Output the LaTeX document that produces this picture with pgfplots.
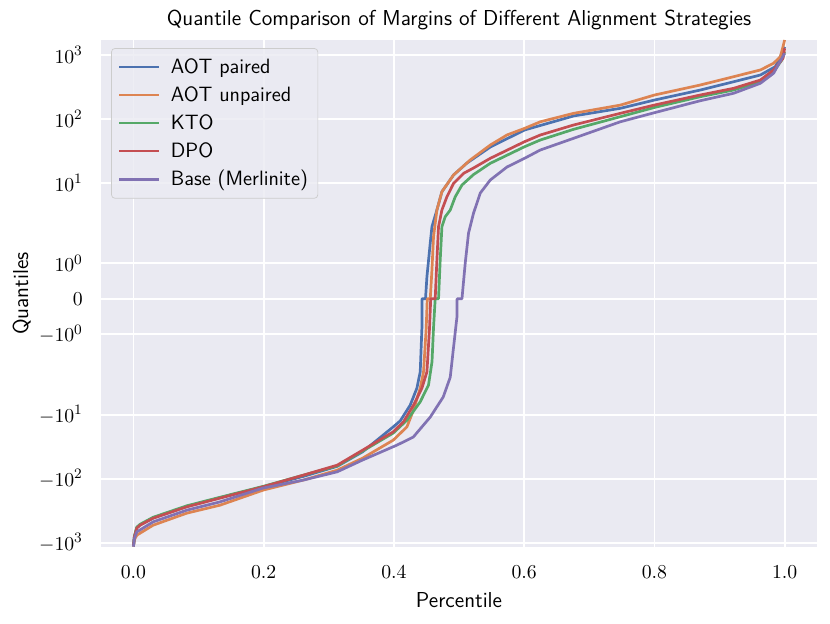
\documentclass[border=0pt]{standalone}
\usepackage{fontspec}
\usepackage{pgfplots}
\pgfplotsset{compat=1.18}

\definecolor{sbblue}{HTML}{4C72B0}
\definecolor{sborange}{HTML}{DD8452}
\definecolor{sbgreen}{HTML}{55A868}
\definecolor{sbred}{HTML}{C44E52}
\definecolor{sbpurple}{HTML}{8172B3}
\definecolor{sbbg}{HTML}{EAEAF2}

\begin{document}
\begin{tikzpicture}
\begin{axis}[
  name=ax, at={(0,0)}, anchor=south west,
  scale only axis, width=397.7pt, height=281.7pt,
  xmin=-0.05, xmax=1.05, ymin=-7.76, ymax=8.09,
  axis background/.style={fill=sbbg},
  axis line style={draw=none},
  major tick length=0pt,
  grid=major, grid style={white, line width=1pt},
  xtick={0,0.2,0.4,0.6,0.8,1.0},
  xticklabels={$0.0$,$0.2$,$0.4$,$0.6$,$0.8$,$1.0$},
  % symlog (linthresh 2, linscale 1): positions of the ticks
  ytick={-7.62016,-5.62016,-3.62016,-1.11111,0,1.11111,3.62016,5.62016,7.62016},
  yticklabels={$-10^{3}$,$-10^{2}$,$-10^{1}$,$-10^{0}$,$0$,$10^{0}$,$10^{1}$,$10^{2}$,$10^{3}$},
  y filter/.expression={(abs(y)<=2) ? (1.11111*y) : ((y>0 ? 1 : -1)*2*(1.11111+ln(max(abs(y),2)/2)/ln(10)))},
  tick label style={font=\fontsize{11}{13}\selectfont},
  xticklabel style={yshift=-7pt},
  yticklabel style={xshift=-6.5pt},
  title={Quantile Comparison of Margins of Different Alignment Strategies},
  every axis title/.style={at={(axis description cs:0.5,1.039)}, anchor=center, font=\sffamily\fontsize{12}{14}\selectfont},
  xlabel={Percentile}, ylabel={Quantiles},
  every axis x label/.style={at={(axis description cs:0.5,-0.1044)}, anchor=center, font=\sffamily\fontsize{12}{14}\selectfont},
  every axis y label/.style={at={(axis description cs:-0.1106,0.5)}, rotate=90, anchor=center, font=\sffamily\fontsize{12}{14}\selectfont},
  every axis plot/.append style={line width=1.5pt, line join=round},
  legend cell align=left,
  legend image code/.code={\draw[#1] (0pt,0pt) -- (22pt,0pt);},
  legend style={at={(axis description cs:0.0143,0.9837)}, anchor=north west,
    fill=sbbg, fill opacity=0.8, text opacity=1, draw=black!20, rounded corners=2pt,
    font=\sffamily\fontsize{11.5}{13.5}\selectfont, row sep=1.8pt, inner xsep=3.5pt, inner ysep=3.5pt,
    /tikz/every odd column/.append style={column sep=4pt}},
]

\addplot[sbblue] coordinates {
(0,-1130) (0.0015,-800) (0.0052,-580) (0.0103,-525) (0.0303,-410) (0.082,-270) (0.133,-198)
(0.199,-134) (0.261,-92) (0.313,-64) (0.352,-38) (0.399,-15.5) (0.4097,-12.5)
(0.425,-7.1) (0.4353,-3.85) (0.4404,-2.14) (0.443,-0.82) (0.4432,0) (0.4485,0)
(0.4507,0.62) (0.4558,1.57) (0.4584,2.07) (0.466,3.77) (0.4737,7.28) (0.4916,13.3)
(0.5121,20.4) (0.548,36.3) (0.6006,67) (0.6759,111) (0.7476,146) (0.8003,197)
(0.8705,282) (0.9217,380) (0.9627,484) (0.9857,653) (0.9934,936) (1.0,1340)
};
\addlegendentry{AOT paired}

\addplot[sborange] coordinates {
(0,-1150) (0.0015,-900) (0.0052,-762) (0.0303,-532) (0.082,-345) (0.133,-259) (0.199,-151)
(0.261,-105) (0.313,-73.5) (0.352,-47.7) (0.3989,-25) (0.42,-15.5) (0.43,-8.5)
(0.4404,-3.85) (0.4455,-2.14) (0.4496,-0.82) (0.4512,0) (0.4558,0) (0.4584,0.81)
(0.4608,1.74) (0.466,3.77) (0.4737,7.28) (0.4916,13.3) (0.5172,22.8) (0.548,39)
(0.5736,56) (0.6006,71) (0.6247,90) (0.6759,122) (0.7476,164) (0.8003,236)
(0.8705,338) (0.9217,456) (0.9627,580) (0.983,738) (0.9934,936) (0.9975,1340) (1.0,1706)
};
\addlegendentry{AOT unpaired}

\addplot[sbgreen] coordinates {
(0,-1130) (0.0015,-790) (0.0052,-570) (0.0103,-515) (0.0303,-400) (0.082,-265) (0.133,-195)
(0.199,-132) (0.261,-88) (0.313,-63) (0.352,-37) (0.3989,-19.4) (0.42,-12.2)
(0.4404,-6.3) (0.4531,-3.45) (0.4585,-1.77) (0.4608,-0.82) (0.4634,0) (0.4685,0)
(0.4711,1.09) (0.4737,2.07) (0.4788,2.96) (0.4865,3.77) (0.4942,6.08) (0.5045,9.26)
(0.5223,13.5) (0.5479,20.2) (0.6006,36.7) (0.6247,46.7) (0.6759,68.7) (0.7476,108)
(0.8003,151) (0.8705,222) (0.9217,282) (0.9627,380) (0.983,545) (0.9957,831) (1.0,1108)
};
\addlegendentry{KTO}

\addplot[sbred] coordinates {
(0,-1130) (0.0015,-810) (0.0052,-592) (0.0103,-532) (0.0303,-414) (0.082,-275) (0.133,-201)
(0.199,-134) (0.261,-88) (0.313,-61.4) (0.352,-35.8) (0.399,-18.5) (0.4147,-12.9)
(0.43,-7.1) (0.443,-3.85) (0.4507,-2.14) (0.4547,-0.82) (0.4565,0) (0.4634,0)
(0.466,1.09) (0.4685,2.07) (0.4737,3.77) (0.4814,6.08) (0.4916,9.84) (0.507,14.1)
(0.5223,17.1) (0.548,24.2) (0.6006,44) (0.6247,55.9) (0.6759,80.2) (0.7476,122)
(0.8003,164.6) (0.8705,236) (0.9217,300) (0.9627,404) (0.983,580) (0.9975,883) (1.0,1265)
};
\addlegendentry{DPO}

\addplot[sbpurple] coordinates {
(0,-1150) (0.0015,-860) (0.0052,-677) (0.0303,-472) (0.082,-310) (0.133,-230) (0.199,-140)
(0.261,-105) (0.313,-78) (0.352,-51) (0.4046,-29.9) (0.4297,-22.4) (0.4558,-10.9)
(0.4757,-5.3) (0.4865,-2.6) (0.4911,-1.44) (0.4968,-0.51) (0.497,0) (0.5045,0)
(0.5095,1.0) (0.5146,1.85) (0.5223,3.38) (0.5326,6.94) (0.548,11.1) (0.5736,17.7)
(0.6006,24.2) (0.6247,32.6) (0.6759,49.7) (0.7476,90) (0.8003,125) (0.8705,192)
(0.9217,251) (0.9627,359) (0.983,515) (1.0,1057)
};
\addlegendentry{Base (Merlinite)}

\end{axis}
\pgfresetboundingbox
\path (-56pt,-42.2pt) rectangle (404.8pt,303.8pt);
\end{tikzpicture}
\end{document}
